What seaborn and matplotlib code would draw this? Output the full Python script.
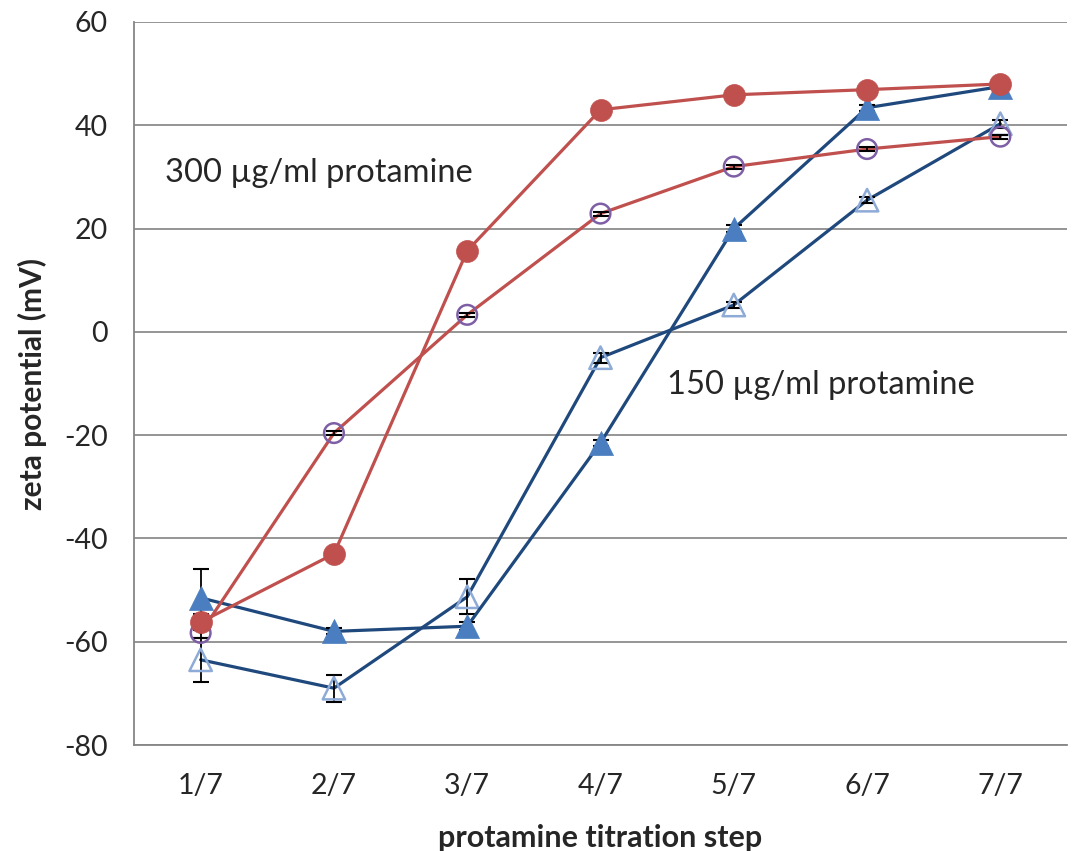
import matplotlib
matplotlib.use("Agg")
import matplotlib.pyplot as plt
import seaborn as sns
import numpy as np
import pandas as pd

steps = ["1/7", "2/7", "3/7", "4/7", "5/7", "6/7", "7/7"]
open_tri = [-63.5, -69.0, -51.3, -5.0, 5.2, 25.5, 40.3]
open_tri_err = [4.3, 2.6, 3.4, 1.0, 0.6, 0.6, 0.8]
filled_tri = [-51.5, -58.0, -57.0, -21.5, 20.0, 43.4, 47.5]
filled_tri_err = [5.6, 0.6, 0.8, 0.6, 0.6, 0.6, 0.6]
open_circ = [-58.3, -19.6, 3.3, 22.9, 32.0, 35.4, 37.8]
open_circ_err = [1.0, 0.4, 0.4, 0.4, 0.4, 0.4, 0.4]
filled_circ = [-56.2, -43.0, 15.7, 43.0, 45.9, 46.9, 48.0]
filled_circ_err = [1.5, 0.4, 0.4, 0.4, 0.4, 0.4, 0.4]

sns.set_theme(style="white")
plt.rcParams['font.family'] = ['Lato', 'DejaVu Sans']

fig = plt.figure(figsize=(10.76, 8.51), dpi=100)
ax = fig.add_axes([134/1076, 1 - 745/851, (1067 - 134)/1076, (745 - 22)/851])

x = np.arange(len(steps))
RED = "#C0504D"
BLUE = "#1F497D"

series = [
    (open_tri, open_tri_err, BLUE, "^", "white", "#8EAAD6", 1),
    (filled_tri, filled_tri_err, BLUE, "^", "#4A7EC0", "#4A7EC0", 2),
    (open_circ, open_circ_err, RED, "o", "white", "#7E5FA6", 3),
    (filled_circ, filled_circ_err, RED, "o", RED, RED, 4),
]

for vals, errs, lc, mk, fc, ec, z in series:
    df = pd.DataFrame({"x": x, "y": vals})
    sns.lineplot(data=df, x="x", y="y", ax=ax, color=lc, linewidth=2.3, zorder=z * 3)
    ax.errorbar(x, vals, yerr=errs, fmt="none", ecolor="black", elinewidth=1.3,
                capsize=5.5, capthick=1.5, zorder=z * 3 + 1)
    if fc == "white":
        sns.scatterplot(data=df, x="x", y="y", ax=ax, marker=mk, s=260 if mk == "^" else 200,
                        facecolors="none", edgecolor=ec, linewidth=1.8, zorder=z * 3 + 2)
    else:
        sns.scatterplot(data=df, x="x", y="y", ax=ax, marker=mk, s=300 if mk == "^" else 250,
                        color=fc, edgecolor=ec, linewidth=0.5, zorder=z * 3 + 2)

ax.set_xlim(-0.5, 6.5)
ax.set_ylim(-80, 60)
ax.set_yticks(np.arange(-80, 61, 20))
ax.set_yticklabels([str(v) for v in range(-80, 61, 20)])
ax.set_xticks(x)
ax.set_xticklabels(steps)
ax.set_xticks(np.arange(-0.5, 6.6, 1), minor=True)
ax.tick_params(axis="x", which="major", length=0, labelsize=20.5, pad=20)
ax.tick_params(axis="x", which="minor", length=9, width=1.2, color="#868686", direction="out")
ax.tick_params(axis="y", length=9, width=1.2, color="#868686", direction="out", labelsize=20.5, pad=10)
ax.yaxis.grid(True, color="#8C8C8C", linewidth=1.3)
ax.xaxis.grid(False)
ax.set_axisbelow(True)
for s in ["top", "right"]:
    ax.spines[s].set_visible(False)
for s in ["left", "bottom"]:
    ax.spines[s].set_color("#868686")
    ax.spines[s].set_linewidth(1.3)

ax.set_xlabel("protamine titration step", fontsize=22, fontweight="bold", labelpad=18)
ax.set_ylabel("zeta potential (mV)", fontsize=21.5, fontweight="bold", labelpad=12)

ax.text(-0.27, 30.8, "300 µg/ml protamine", fontsize=23.5, va="center", ha="left", zorder=20)
ax.text(3.5, -10.3, "150 µg/ml protamine", fontsize=23.5, va="center", ha="left", zorder=20)

fig.savefig("out.png", dpi=100)
